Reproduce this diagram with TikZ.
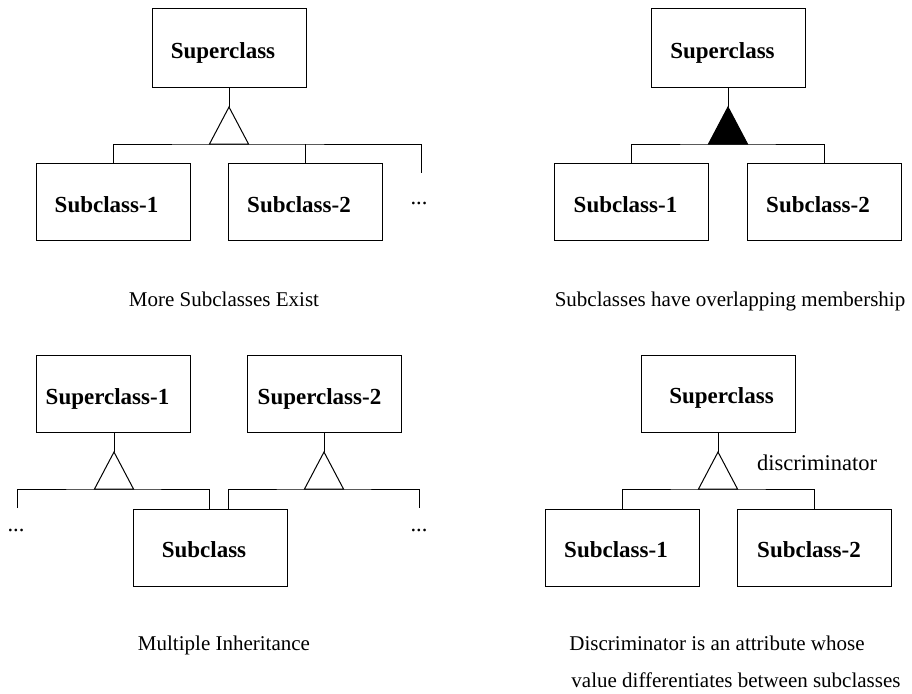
\documentclass[tikz,border=0pt]{standalone}
\usepackage{fontspec}
\setmainfont{Liberation Serif}
\begin{document}
\begin{tikzpicture}[x=1pt,y=-1pt,line width=1pt,
  cls/.style={draw,rectangle,inner sep=0pt,outer sep=0pt,minimum width=154pt,minimum height=77pt},
  lbl/.style={inner sep=0pt,anchor=base,font=\fontsize{23}{27}\selectfont\bfseries},
  caption/.style={inner sep=0pt,anchor=base,font=\fontsize{21}{25}\selectfont},
  note/.style={inner sep=0pt,anchor=base,font=\fontsize{22.5}{27}\selectfont},
  gen/.style={draw,line join=miter},
  genfill/.style={draw,fill=black,line join=miter}]
\useasboundingbox (0,0) rectangle (912,693);

% --- more subclasses exist ---
\node[cls,minimum height=78pt] (asup) at (229,48) {};
\node[lbl] (asupT) at ([shift={(-6,11)}]asup.center) {Superclass};
\node[cls] (asubA) at (113.5,201.5) {};
\node[lbl] (asubAT) at ([shift={(-7,11)}]asubA.center) {Subclass-1};
\node[cls] (asubB) at (305,201.5) {};
\node[lbl] (asubBT) at ([shift={(-6,11)}]asubB.center) {Subclass-2};
\coordinate (atri) at (229,107);
\coordinate (abar) at (229,144);
\coordinate (amore) at (421,173);
\draw (asup.south) -- (atri);
\draw[gen] (atri) -- ++(-19.5,37) -- ++(39,0) -- cycle;
\draw (asubA.north) |- (abar) -| (amore);
\draw (asubB.north) -- (asubB.north |- abar);
\node[note] (adots) at (419,204) {...};
\node[caption] (acap) at (224,306) {More Subclasses Exist};

% --- overlapping membership ---
\node[cls,minimum height=78pt] (bsup) at (728,48) {};
\node[lbl] (bsupT) at ([shift={(-5.5,11)}]bsup.center) {Superclass};
\node[cls] (bsubA) at (631.5,201.5) {};
\node[lbl] (bsubAT) at ([shift={(-6,11)}]bsubA.center) {Subclass-1};
\node[cls] (bsubB) at (824,201.5) {};
\node[lbl] (bsubBT) at ([shift={(-6,11)}]bsubB.center) {Subclass-2};
\coordinate (btri) at (728,107);
\coordinate (bbar) at (728,144);
\draw (bsup.south) -- (btri);
\draw[genfill] (btri) -- ++(-19.5,37) -- ++(39,0) -- cycle;
\draw (bsubA.north) |- (bbar) -| (bsubB.north);
\node[caption] (bcap) at (730,306) {Subclasses have overlapping membership};

% --- multiple inheritance ---
\node[cls] (csupA) at (113.5,393.5) {};
\node[lbl] (csupAT) at ([shift={(-6,11)}]csupA.center) {Superclass-1};
\node[cls] (csupB) at (324.5,393.5) {};
\node[lbl] (csupBT) at ([shift={(-5,11)}]csupB.center) {Superclass-2};
\node[cls] (csub) at (210,547.5) {};
\node[lbl] (csubT) at ([shift={(-6,10)}]csub.center) {Subclass};
\coordinate (ctriA) at (114,452);
\coordinate (ctriB) at (324,452);
\coordinate (cbarA) at (114,489);
\coordinate (cbarB) at (324,489);
\coordinate (cmoreA) at (17,508);
\coordinate (cmoreB) at (419,508);
\draw (csupA.south -| ctriA) -- (ctriA);
\draw (csupB.south -| ctriB) -- (ctriB);
\draw[gen] (ctriA) -- ++(-19.5,37) -- ++(39,0) -- cycle;
\draw[gen] (ctriB) -- ++(-19.5,37) -- ++(39,0) -- cycle;
\draw (cmoreA) |- (cbarA) -| ([xshift=-1pt]csub.north);
\draw ([xshift=18pt]csub.north) |- (cbarB) -| (cmoreB);
\node[note] (cdotsA) at (16,531) {...};
\node[note] (cdotsB) at (419,531) {...};
\node[caption] (ccap) at (224,650) {Multiple Inheritance};

% --- discriminator ---
\node[cls] (dsup) at (718,393.5) {};
\node[lbl] (dsupT) at ([shift={(3.5,10)}]dsup.center) {Superclass};
\node[cls] (dsubA) at (622,547.5) {};
\node[lbl] (dsubAT) at ([shift={(-6,10)}]dsubA.center) {Subclass-1};
\node[cls] (dsubB) at (814,547.5) {};
\node[lbl] (dsubBT) at ([shift={(-5,10)}]dsubB.center) {Subclass-2};
\coordinate (dtri) at (718,452);
\coordinate (dbar) at (718,489);
\draw (dsup.south) -- (dtri);
\draw[gen] (dtri) -- ++(-19.5,37) -- ++(39,0) -- cycle;
\draw (dsubA.north) |- (dbar) -| (dsubB.north);
\node[note] (dlabel) at (817,470) {discriminator};
\node[caption] (dcap1) at (717,650) {Discriminator is an attribute whose};
\node[caption] (dcap2) at (736,687) {value differentiates between subclasses};
\end{tikzpicture}
\end{document}
